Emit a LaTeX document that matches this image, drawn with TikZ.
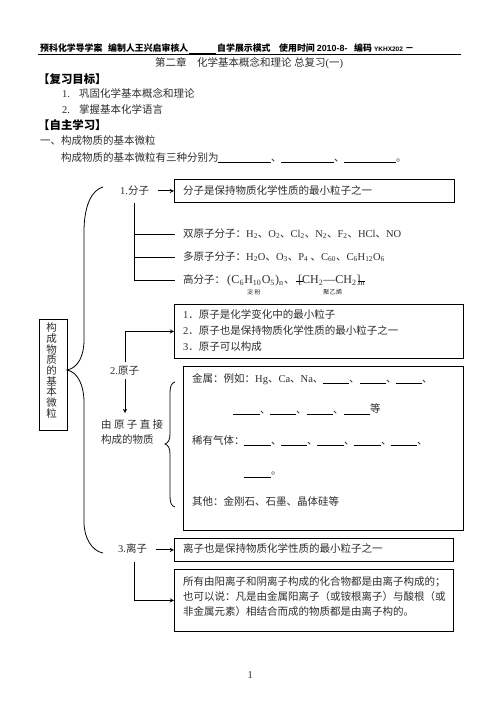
\documentclass[tikz,border=0pt]{standalone}
\usepackage{fontspec}
\setmainfont{Noto Sans CJK SC}
\newfontfamily\latinrm{Liberation Serif}
\newfontfamily\latinsf{Liberation Sans}
\usetikzlibrary{positioning}
\newcommand{\la}[1]{{\latinrm #1}}
\newcommand{\xs}[1]{\textsubscript{#1}}
\newcommand{\gp}{\kern0.3pt}
% one row of answer blanks, each with its pause mark
\newcommand{\blankrow}[2]{%
  \foreach \a/\b in {#2} {
    \draw[blank] (\a,#1+4.5) -- (\b,#1+4.5);
    \node[zh] (dun#1n\a) at (\b,#1) {、};
  }%
}
\tikzset{
  zh/.style={anchor=base west, inner sep=0pt, text=black!82, yshift=-3.7pt, font=\fontsize{10.5}{12}\selectfont},
  head/.style={anchor=base west, inner sep=0pt, text=black, yshift=-3.3pt, font=\fontsize{8.9}{10}\selectfont\bfseries},
  topic/.style={anchor=base west, inner sep=0pt, text=black, yshift=-4pt, font=\fontsize{11.4}{12}\selectfont\bfseries},
  box/.style={draw=black, line width=0.8pt, anchor=north west, inner sep=0pt},
  rule/.style={black, line width=0.8pt},
  arw/.style={black, -stealth, line width=0.9pt},
  blank/.style={black, line width=0.7pt},
}
\begin{document}
\begin{tikzpicture}[x=1pt,y=-1pt]
  \useasboundingbox (0,0) rectangle (499,709);
  \fill[white] (0,0) rectangle (499,709);

  % header
  \node[head] (hda) at (40,48) {预科化学导学案};
  \node[head] (hdb) at (108,48) {编制人王兴启审核人};
  \node[head] (hdc) at (217,48) {自学展示模式};
  \node[head] (hdd) at (279,48) {使用时间 {\latinsf 2010-8-}};
  \node[head] (hde) at (354,48) {编码 {\latinsf\fontsize{6.5}{10}\selectfont YKHX202}};
  \node[head] (hdf) at (405,48) {－};
  \draw[rule] (38,54.3) -- (461,54.3);
  \draw[rule] (189,53.5) -- (216,53.5);

  \node[zh] (title) at (155,63) {第二章　化学基本概念和理论 总复习\la{(}一\la{)}};
  \node[topic] (goal) at (38,79) {【复习目标】};
  \node[zh] (gnuma) at (62,93.5) {\la{1.}};
  \node[zh] (gtxta) at (79,93.5) {巩固化学基本概念和理论};
  \node[zh] (gnumb) at (62,109.5) {\la{2.}};
  \node[zh] (gtxtb) at (79,109.5) {掌握基本化学语言};
  \node[topic] (study) at (38,125.5) {【自主学习】};
  \node[zh] (secone) at (40,141) {一、构成物质的基本微粒};
  \node[zh] (secq) at (61,158) {构成物质的基本微粒有三种分别为};
  \blankrow{158}{218/271,281/334}
  \draw[blank] (344,162.5) -- (396,162.5);
  \node[zh] (secend) at (396,158) {。};

  % boxes
  \node[box, minimum width=280pt, minimum height=23pt] (bxone) at (174,179) {};
  \node[box, minimum width=289pt, minimum height=54pt] (bxtwo) at (174,304) {};
  \node[box, minimum width=280pt, minimum height=164pt] (bxthree) at (183,366) {};
  \node[box, minimum width=279pt, minimum height=23pt] (bxfour) at (174,538) {};
  \node[box, minimum width=279pt, minimum height=62pt] (bxfive) at (174,569) {};
  \node[box, minimum width=28pt, minimum height=111pt] (root) at (39,319) {};

  % root label
  \foreach \i/\c in {0/构,1/成,2/物,3/质,4/的,5/基,6/本,7/微,8/粒} {
    \node[zh, anchor=base] (rt\i) at (51.5,328+10.7*\i) {\c};
  }

  % big brace
  \draw[rule] (103,187) .. controls (92,190) and (84,205) .. (84,232)
    -- (84,340) .. controls (84,356) and (78,368) .. (67,370)
    .. controls (78,372) and (84,386) .. (84,402)
    -- (84,522) .. controls (84,538) and (92,551) .. (103,553);

  % molecule
  \node[zh] (lblone) at (120,191) {\la{1.}分子};
  \draw[arw] (lblone.east |- bxone.west) -- (bxone.west) [shorten <=9pt];
  \node[zh] (mola) at (183,191) {分子是保持物质化学性质的最小粒子之一};
  \coordinate (trktop) at (134,203);
  \coordinate (trka) at (134,234);
  \coordinate (trkb) at (134,257);
  \coordinate (trkc) at (134,280);
  \coordinate (brna) at (175,234);
  \coordinate (brnb) at (175,257);
  \coordinate (brnc) at (175,280);
  \draw[rule] (trktop) -- (trkc) -- (brnc);
  \draw[rule] (trka) -- (brna);
  \draw[rule] (trkb) -- (brnb);
  \node[zh] (dia) at (183,233.5) {双原子分子：\la{H\xs{2}}、\la{O\xs{2}}、\la{Cl\xs{2}}、\la{N\xs{2}}、\la{F\xs{2}}、\la{HCl}、\la{NO}};
  \node[zh] (poly) at (183,256.5) {多原子分子：\la{H\xs{2}O}、\la{O\xs{3}}、\la{P\xs{4}} 、\la{C\xs{60}}、\la{C\xs{6}H\xs{12}O\xs{6}}};
  \node[zh] (high) at (183,280) {高分子：};
  \node[zh, font=\fontsize{12}{12}\selectfont] (starch) at (227,280) {\la{(\gp C\xs{6}\gp H\xs{10}\gp O\xs{5}\gp)\xs{n}}};
  \node[zh] (highd) at (284,280) {、};
  \node[zh, font=\fontsize{12}{12}\selectfont] (pe) at (298,280) {\la{[CH\xs{2}—CH\xs{2}]\xs{n}}};
  \draw[blank] (296,281) -- (303,281);
  \draw[blank] (358,281) -- (365,281);
  \node[zh, font=\fontsize{6}{6}\selectfont] (starchn) at (247,291) {淀 粉};
  \node[zh, font=\fontsize{6.3}{6}\selectfont] (pen) at (323,291) {聚乙烯};

  % atom
  \node[zh] (atma) at (183,315) {\la{1}．原子是化学变化中的最小粒子};
  \node[zh] (atmb) at (183,331) {\la{2}．原子也是保持物质化学性质的最小粒子之一};
  \node[zh] (atmc) at (183,347) {\la{3}．原子可以构成};
  \node[zh] (lbltwo) at (110,371) {\la{2.}原子};
  \coordinate (atmup) at (125,362);
  \coordinate (atmdn) at (125,379);
  \coordinate (atmtip) at (125,413);
  \draw[arw] (atmup) |- (bxtwo.west);
  \draw[arw] (atmdn) -- (atmtip);
  \node[zh] (dira) at (101,425) {由 原 子 直 接};
  \node[zh] (dirb) at (101,440) {构成的物质};
  \draw[rule] (175,382) .. controls (171,383) and (170,387) .. (170,393)
    -- (170,434) .. controls (170,440) and (168,443) .. (165,444)
    .. controls (168,445) and (170,448) .. (170,454)
    -- (170,496) .. controls (170,502) and (171,506) .. (175,507);

  % substances
  \node[zh] (meta) at (192,379) {金属：例如：\la{Hg}、\la{Ca}、\la{Na}、};
  \blankrow{379}{323/349,360/386,396/422}
  \blankrow{410}{233/260,270/296,307/333}
  \draw[blank] (344,414.5) -- (370,414.5);
  \node[zh] (metend) at (370,409) {等};
  \node[zh] (noble) at (192,441) {稀有气体：};
  \blankrow{441}{244/271,281/307,317/344,354/381,391/417}
  \draw[blank] (244,477) -- (271,477);
  \node[zh] (nobend) at (271,471) {。};
  \node[zh] (other) at (192,502) {其他：金刚石、石墨、晶体硅等};

  % ion
  \node[zh] (lblthree) at (118,549) {\la{3.}离子};
  \draw[arw] (lblthree.east |- bxfour.west) -- (bxfour.west) [shorten <=9pt];
  \node[zh] (iona) at (183,549) {离子也是保持物质化学性质的最小粒子之一};
  \coordinate (ionup) at (134,562);
  \draw[arw] (ionup) |- (bxfive.west);
  \node[zh] (ionb) at (183,582) {所有由阳离子和阴离子构成的化合物都是由离子构成的；};
  \node[zh] (ionc) at (183,597) {也可以说：凡是由金属阳离子（或铵根离子）与酸根（或};
  \node[zh] (iond) at (183,612) {非金属元素）相结合而成的物质都是由离子构的。};

  \node[zh] (page) at (247.5,675) {\la{1}};
\end{tikzpicture}
\end{document}
